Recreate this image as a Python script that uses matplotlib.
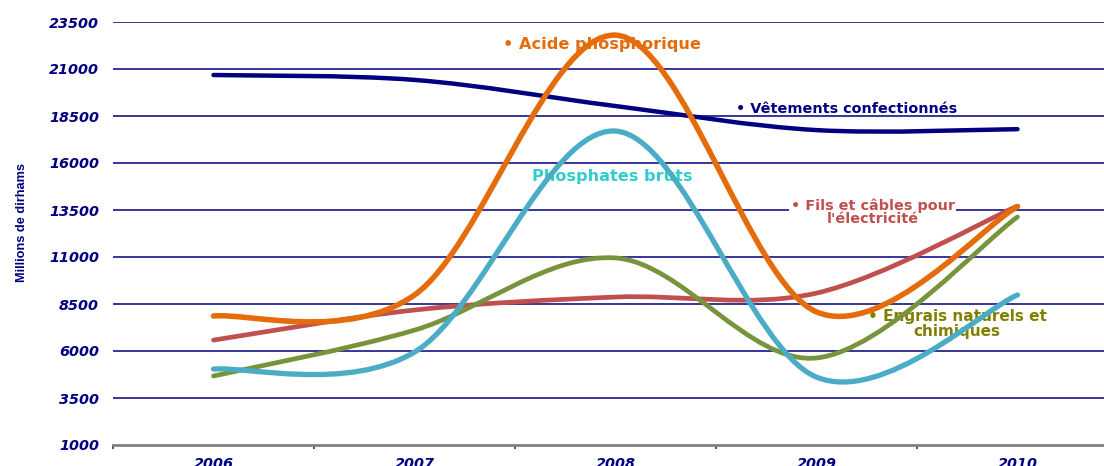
import numpy as np
import matplotlib
matplotlib.use("Agg")
from matplotlib import pyplot as plt
from matplotlib.path import Path
from matplotlib.patches import PathPatch

years = ["2006", "2007", "2008", "2009", "2010"]

vetements = [20680, 20420, 19030, 17750, 17800]
acide = [7860, 8980, 22800, 8080, 13680]
phosphates = [5040, 5940, 17700, 4610, 8980]
fils = [6580, 8180, 8870, 9080, 13710]
engrais = [4670, 7110, 10950, 5630, 13130]

yticks = [1000, 3500, 6000, 8500, 11000, 13500, 16000, 18500, 21000, 23500]

NAVY = "#000080"


def smooth_path(xs, ys):
    # excel-like smoothed line: cubic bezier through every point
    pts = np.column_stack([xs, ys]).astype(float)
    n = len(pts)
    verts = [pts[0]]
    codes = [Path.MOVETO]
    for i in range(n - 1):
        p0 = pts[max(i - 1, 0)]
        p1 = pts[i]
        p2 = pts[i + 1]
        p3 = pts[min(i + 2, n - 1)]
        c1 = p1 + (p2 - p0) / 6.0
        c2 = p2 - (p3 - p1) / 6.0
        verts += [c1, c2, p2]
        codes += [Path.CURVE4] * 3
    return Path(verts, codes)


fig = plt.figure(figsize=(11.04, 4.66), dpi=100)
ax = fig.add_axes([113 / 1104, 21 / 466, (1118 - 113) / 1104, (445 - 22) / 466])

x = np.arange(len(years))
ax.set_xlim(-0.5, len(years) - 0.5)
ax.set_ylim(1000, 23500)

# grid
for v in yticks[1:]:
    ax.axhline(v, color=NAVY, lw=1.1, zorder=1)

series = [
    (vetements, NAVY, 3.2),
    (fils, "#C0504D", 3.4),
    (engrais, "#77933C", 3.4),
    (phosphates, "#4BACC6", 3.8),
    (acide, "#E46C0A", 4.0),
]
for vals, col, lw in series:
    p = PathPatch(smooth_path(x, vals), facecolor="none", edgecolor=col, lw=lw,
                  capstyle="round", joinstyle="round", zorder=4)
    ax.add_patch(p)

# series labels
lab = dict(fontweight="bold", family="DejaVu Sans", zorder=3)
ax.text(1.44, 22280, "• Acide phosphorique", color="#E46C0A", ha="left", va="center",
        fontsize=11.6, **lab)
ax.text(2.60, 18850, "• Vêtements confectionnés", color=NAVY, ha="left", va="center",
        fontsize=10.4, **lab)
ax.text(1.585, 15300, "Phosphates bruts", color="#33CCCC", ha="left", va="center",
        fontsize=11.6, **lab)
ax.text(3.28, 13400, "• Fils et câbles pour\nl'électricité", color="#C0504D",
        ha="center", va="center", linespacing=0.9, fontsize=10.4,
        bbox=dict(facecolor="white", edgecolor="none", pad=1), **lab)
ax.text(3.70, 7430, "• Engrais naturels et\nchimiques", color="#808000",
        ha="center", va="center", linespacing=1.0, fontsize=11.0, **lab)

# axes styling
for s in ["top", "right", "left"]:
    ax.spines[s].set_visible(False)
ax.spines["bottom"].set_color("#808080")
ax.spines["bottom"].set_linewidth(2)
ax.spines["bottom"].set_zorder(5)

tick_font = dict(family="DejaVu Sans", weight="bold", style="italic", size=10.4)
ax.set_yticks(yticks)
ax.set_yticklabels([str(v) for v in yticks], color=NAVY, **tick_font)
ax.tick_params(axis="y", length=0, pad=10)

ax.set_xticks(x)
ax.set_xticklabels(years, color=NAVY, **tick_font)
ax.set_xticks(np.arange(-0.5, len(years), 1.0), minor=True)
ax.tick_params(axis="x", which="major", length=0, pad=9)
ax.tick_params(axis="x", which="minor", length=3, width=1.2, color="#333333", direction="out")

fig.text(22 / 1104, 1 - 222 / 466, "Millions de dirhams", rotation=90, color=NAVY,
         ha="center", va="center", fontsize=9.2, fontweight="bold",
         family=["Liberation Sans Narrow", "Liberation Sans"])

fig.savefig("out.png", dpi=100)
